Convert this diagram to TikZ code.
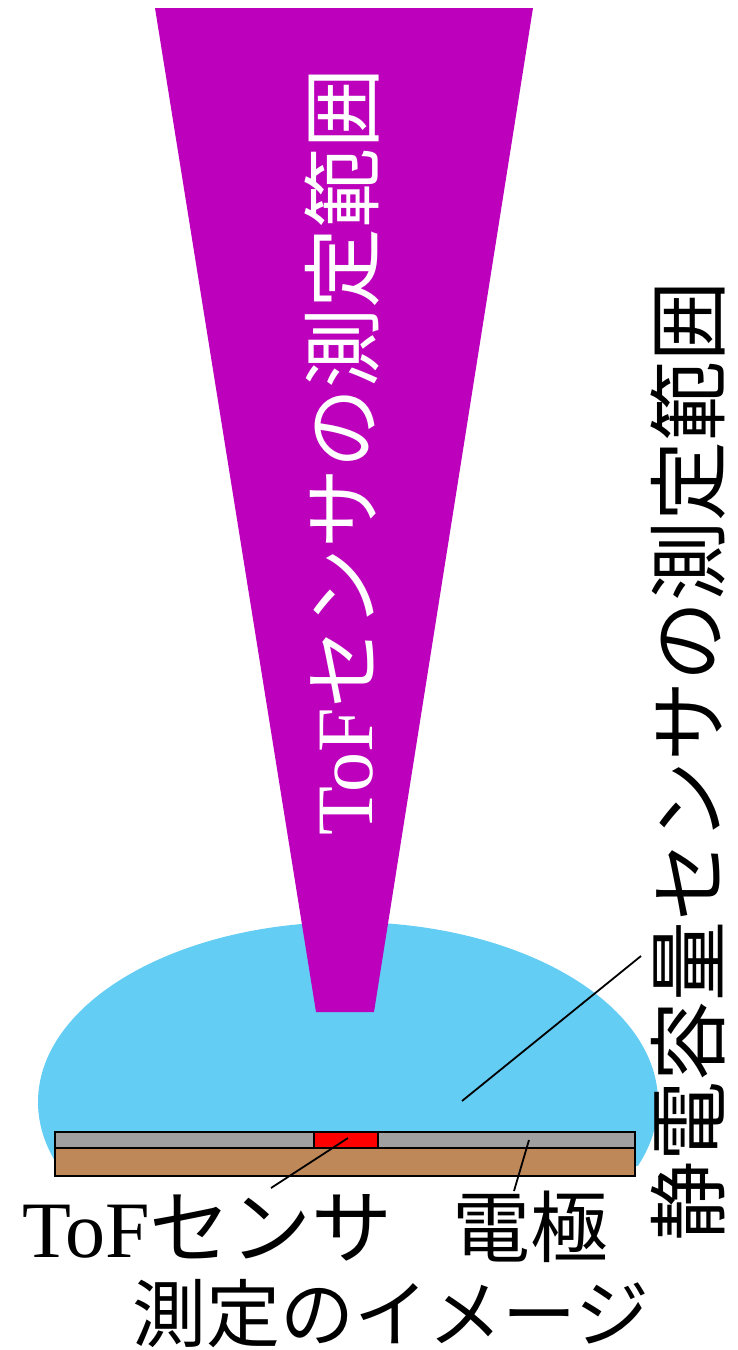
\documentclass[tikz,border=0pt]{standalone}
\usepackage{fontspec}
\setmainfont{Liberation Serif}
\newfontfamily\jp{Noto Sans CJK JP}
\definecolor{conecol}{HTML}{BC00BC}
\definecolor{fieldcol}{HTML}{63CDF4}
\definecolor{graycol}{HTML}{A0A0A0}
\definecolor{browncol}{HTML}{BF8859}
\begin{document}
\begin{tikzpicture}[x=1pt,y=-1pt,
  lbl/.style={inner sep=0pt, text=black},
  callout/.style={draw=black, line width=1.8pt},
  layer/.style={draw=black, line width=2.6pt}]
\useasboundingbox (0,0) rectangle (738,1350);
% capacitive field
\begin{scope}
\clip (0,0) rectangle (738,1165);
\fill[fieldcol] (348,1102) ellipse [x radius=310, y radius=180];
\end{scope}
% ToF cone
\fill[conecol] (155,8) -- (533,8) -- (374,1012) -- (316,1012) -- cycle;
\node[lbl, text=white, rotate=90, font=\fontsize{80}{82}\selectfont] (conetext) at (342,452) {ToF{\jp センサの測定範囲}};
% plate
\draw[layer, fill=browncol] (55,1148) rectangle (635,1176);
\draw[layer, fill=graycol] (55,1132) rectangle (635,1148);
\draw[layer, fill=red] (314,1132) rectangle (378,1148);
% labels
\node[lbl, anchor=south west, font=\fontsize{80}{82}\selectfont] (toflabel) at (22,1261) {ToF{\jp\fontsize{81}{82}\selectfont センサ}};
\node[lbl, anchor=south west, font=\jp\fontsize{78}{80}\selectfont] (elabel) at (452,1263) {電極};
\node[lbl, anchor=center, font=\jp\fontsize{74}{76}\selectfont] (title) at (391,1314) {測定のイメージ};
\node[lbl, rotate=90, font=\jp\fontsize{80}{82}\selectfont] (captext) at (688,761) {静電容量センサの測定範囲};
% callouts
\coordinate (capin) at (462,1101);
\coordinate (capout) at (641,956);
\coordinate (tofin) at (348,1138);
\coordinate (tofout) at (271,1188);
\coordinate (ein) at (529,1140);
\coordinate (eout) at (514,1191);
\draw[callout] (capin) -- (capout);
\draw[callout] (tofin) -- (tofout);
\draw[callout] (ein) -- (eout);
\end{tikzpicture}
\end{document}
